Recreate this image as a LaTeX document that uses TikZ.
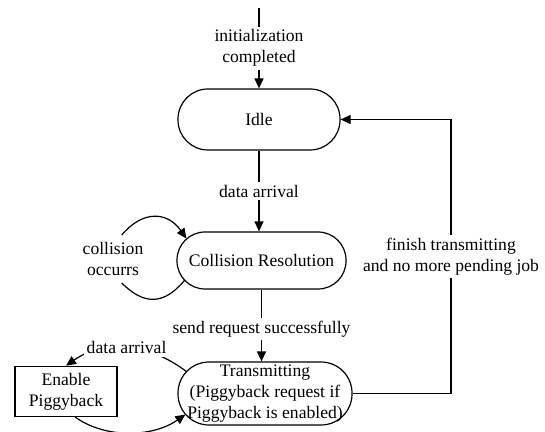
\documentclass[tikz,border=0pt]{standalone}
\usepackage{fontspec}
\setmainfont{Liberation Serif}
\usetikzlibrary{arrows.meta}

\begin{document}
\begin{tikzpicture}[x=0.5pt, y=-0.5pt, >={Triangle[length=5pt,width=4.5pt]}, semithick,
        font=\fontsize{8.8}{10.5}\selectfont,
        stadium/.style={draw, rectangle, inner sep=0pt, align=center},
        lbl/.style={fill=white, inner sep=1.5pt, align=center}]

        \useasboundingbox (0,0) rectangle (545,432);

        \node[stadium, minimum width=81pt, minimum height=30.5pt, rounded corners=15pt]     (idle)  at (259,119.5)  {Idle};
        \node[stadium, minimum width=84.5pt, minimum height=28.5pt, rounded corners=14pt]   (cr)    at (261.5,260.5) {Collision Resolution};
        \node[stadium, minimum width=87pt, minimum height=31.5pt, rounded corners=15.5pt]   (trans) at (265,393.5)  {Transmitting\\(Piggyback request if\\Piggyback is enabled)};
        \node[draw, minimum width=51pt, minimum height=23.5pt, align=center]                (pb)    at (66,391.5)   {Enable\\Piggyback};
        \node[align=center]                                                                 (occ)   at (113,259)    {collision\\occurrs};
        \coordinate (top) at (259,8);
        \coordinate (rt)  at (451,119.5);

        \draw[->] (top) -- node[lbl] {initialization\\completed} (idle.north);
        \draw[->] (idle.south) -- node[lbl] {data arrival} (idle.south |- cr.north);
        \draw[->] (cr.south) -- node[lbl, pos=0.55] {send request successfully} (cr.south |- trans.north);
        \draw[->] (trans.east) -| node[lbl, pos=0.75] {finish transmitting\\and no more pending job} (rt) -- (idle.east);

        % collision loop
        \draw ([shift={(8,20)}]cr.west) to[out=230, in=-45, looseness=1.3] (occ.-70);
        \draw[->] (occ.70) to[out=50, in=125, looseness=1.3] ([shift={(10,-22)}]cr.west);

        % piggyback
        \draw[->] ([shift={(9,-22)}]trans.west) to[out=143, in=35] node[lbl] {data arrival} (pb.north);
        \draw[->] (pb.-70) to[out=-35, in=215, looseness=0.9] ([shift={(8,21)}]trans.west);

\end{tikzpicture}
\end{document}
